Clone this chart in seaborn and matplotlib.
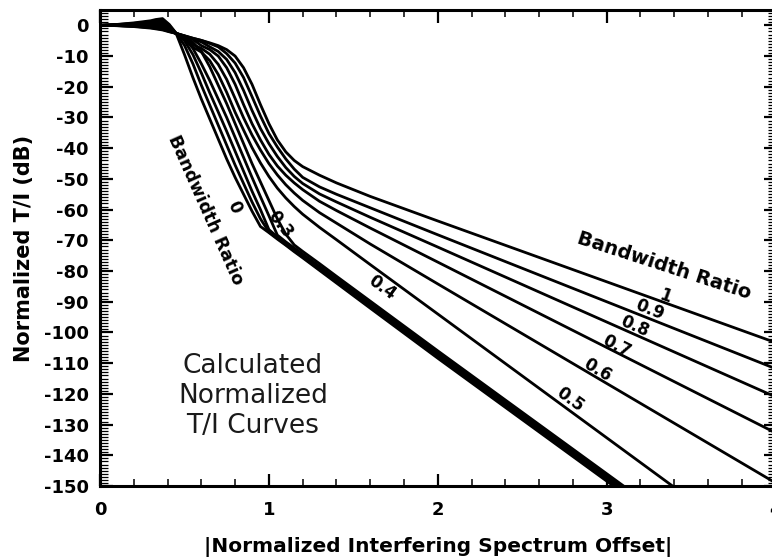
import numpy as np
import pandas as pd
import matplotlib
matplotlib.use("Agg")
import matplotlib.pyplot as plt
from matplotlib.ticker import MultipleLocator
import seaborn as sns

# ---- data ----
X = [0, 0.1, 0.2, 0.3, 0.33, 0.37, 0.41, 0.45, 0.5, 0.55, 0.6, 0.65, 0.7, 0.75, 0.8, 0.85,
     0.9, 0.95, 1.0, 1.05, 1.1, 1.15, 1.2, 1.3, 1.4, 1.6, 2.0, 3.0, 4.0]

R00 = [0, 0.3, 0.8, 1.5, 1.9, 2.2, 0.3, -2.5, -9.5, -17, -24, -30.5, -37, -43.5, -49.5, -55,
       -60.5, -65.5, -67.5, -69.6, -71.6, -73.7, -75.7, -79.8, -83.9, -92.1, -108.4, -148.4, -188.4]
R01 = [0, 0.25, 0.65, 1.2, 1.4, 1.6, 0.0, -2.6, -6.5, -12.5, -19.5, -26, -32.5, -39, -45.5, -51.5,
       -57.5, -63, -67.3, -69.3, -71.4, -73.4, -75.4, -79.5, -83.5, -91.6, -107.8, -147.8, -187.8]
R02 = [0, 0.2, 0.5, 0.9, 1.0, 1.1, -0.4, -2.6, -5, -9.5, -15.5, -22, -28.2, -34.5, -41, -47.5,
       -54, -60, -66.5, -68.9, -70.9, -73.0, -75.0, -79.0, -83.0, -91.1, -107.2, -147.2, -187.2]
R03 = [0, 0.15, 0.35, 0.6, 0.6, 0.6, -0.8, -2.6, -4.2, -7.5, -12.5, -18, -24, -30, -36.5, -43,
       -49.5, -55.8, -62, -68.3, -70.5, -72.5, -74.5, -78.5, -82.5, -90.6, -106.6, -146.6, -186.6]
R04 = [0, 0.1, 0.2, 0.3, 0.3, 0.2, -1.1, -2.6, -3.8, -5.5, -8.5, -13.5, -19.5, -25.5, -32, -38.5,
       -45, -51, -57, -63, -68.0, -71.5, -73.6, -77.6, -81.7, -89.8, -106.0, -146.0, -186.0]
R05 = [0, 0.05, 0.05, 0.0, 0.0, -0.2, -1.4, -2.6, -4.3, -7.1, -8.7, -11.5, -16.0, -21.8, -28.3, -34.1,
       -39.8, -44.8, -49.2, -53.0, -56.2, -59.0, -61.5, -65.8, -69.8, -77.9, -94.0, -134.3, -174.6]
R06 = [0, 0, -0.1, -0.3, -0.4, -0.6, -1.6, -2.6, -3.8, -6.3, -7.5, -9.4, -12.7, -17.6, -23.8, -30.1,
       -35.7, -40.6, -45.0, -48.7, -51.9, -54.6, -57.0, -61.0, -64.4, -71.2, -84.2, -116.6, -149.0]
R07 = [0, -0.05, -0.2, -0.5, -0.7, -0.9, -1.8, -2.6, -3.6, -4.6, -6.6, -7.9, -10.0, -13.8, -19.2, -25.8,
       -32.0, -37.3, -42.0, -45.8, -48.8, -51.3, -53.5, -57.3, -60.3, -66.0, -77.1, -104.9, -132.7]
R08 = [0, -0.05, -0.25, -0.6, -0.8, -1.1, -1.9, -2.6, -3.5, -4.4, -5.4, -7.0, -8.5, -11.1, -15.4, -21.2,
       -27.7, -33.6, -38.5, -42.7, -46.3, -49.2, -51.5, -54.9, -57.5, -62.5, -72.2, -96.6, -121.0]
R09 = [0, -0.1, -0.3, -0.75, -1.0, -1.3, -2.0, -2.6, -3.4, -4.2, -4.9, -5.9, -7.0, -9.2, -12.3, -17.0,
       -23.2, -29.5, -35.2, -39.6, -43.5, -46.8, -49.5, -52.6, -55.0, -59.4, -68.2, -90.0, -111.8]
R10 = [0, -0.1, -0.4, -0.9, -1.15, -1.5, -2.1, -2.6, -3.4, -4.2, -4.9, -5.7, -6.6, -7.9, -10.0, -13.8,
       -19.2, -25.8, -32.0, -37.3, -41.2, -44.0, -46.0, -48.8, -51.3, -55.7, -63.7, -83.5, -103.3]

RATIOS = ["0", "0.1", "0.2", "0.3", "0.4", "0.5", "0.6", "0.7", "0.8", "0.9", "1"]
SERIES = [R00, R01, R02, R03, R04, R05, R06, R07, R08, R09, R10]

X_TICKS = [0, 1, 2, 3, 4]
Y_TICKS = list(range(-150, 1, 10))

LINE_LABELS = ["1", "0.9", "0.8", "0.7", "0.6", "0.5", "0.4", "0.3", "0"]
LABEL_X = [3.345, 3.256, 3.168, 3.061, 2.943, 2.783, 1.670, 1.066, 0.793]
LABEL_Y = [-88.1, -92.7, -97.9, -104.4, -112.2, -122.0, -85.5, -65.0, -59.1]
LABEL_ROT = [-19.8, -21.6, -23.9, -26.8, -30.5, -36.0, -36.0, -52.0, -65.0]

# ---- build long table ----
rows = []
for name, ys in zip(RATIOS, SERIES):
    for xv, yv in zip(X, ys):
        rows.append({"x": xv, "y": yv, "ratio": name})
df = pd.DataFrame(rows)

sns.set_style("ticks")
plt.rcParams["font.family"] = ["DejaVu Sans"]
for k in ["text.color", "axes.labelcolor", "xtick.color", "ytick.color", "axes.edgecolor"]:
    plt.rcParams[k] = "black"

fig = plt.figure(figsize=(7.72, 5.6), dpi=100)
W, H = 772.0, 560.0
ax = fig.add_axes([100 / W, 74 / H, 675.6 / W, 476 / H])

sns.lineplot(data=df, x="x", y="y", hue="ratio", hue_order=RATIOS,
             palette={r: "black" for r in RATIOS}, estimator=None,
             legend=False, linewidth=2.0, ax=ax)

ax.set_xlim(0, 4)
ax.set_ylim(-150, 5)
ax.set_xticks(X_TICKS)
ax.set_xticklabels([str(t) for t in X_TICKS])
ax.set_yticks(Y_TICKS)
ax.set_yticklabels([str(t) for t in Y_TICKS])
ax.xaxis.set_minor_locator(MultipleLocator(0.2))
ax.yaxis.set_minor_locator(MultipleLocator(1))

ax.tick_params(axis="both", which="both", direction="in", top=True, right=True,
               colors="black")
ax.tick_params(axis="x", which="major", length=9, width=1.6, pad=11)
ax.tick_params(axis="x", which="minor", length=5, width=1.1)
ax.tick_params(axis="y", which="major", length=9, width=1.6, pad=8)
ax.tick_params(axis="y", which="minor", length=5.5, width=0.9)
for lab in ax.get_xticklabels() + ax.get_yticklabels():
    lab.set_fontweight("bold")
    lab.set_fontsize(13)
    lab.set_color("black")

for s in ax.spines.values():
    s.set_linewidth(2.2)
    s.set_color("black")

ax.set_xlabel("|Normalized Interfering Spectrum Offset|", fontsize=14.5,
              fontweight="bold", labelpad=13, color="black")
ax.set_ylabel("Normalized T/I (dB)", fontsize=15, fontweight="bold", labelpad=7,
              color="black")

for t, xv, yv, rot in zip(LINE_LABELS, LABEL_X, LABEL_Y, LABEL_ROT):
    ax.text(xv, yv, t, rotation=rot, rotation_mode="anchor", ha="center", va="center",
            fontsize=12, fontweight="bold", color="black")

ax.text(3.34, -78.4, "Bandwidth Ratio", rotation=-18, rotation_mode="anchor",
        ha="center", va="center", fontsize=14, fontweight="bold", color="black")
ax.text(0.622, -60.1, "Bandwidth Ratio", rotation=-66, rotation_mode="anchor",
        ha="center", va="center", fontsize=12.5, fontweight="bold", color="black")

ax.text(0.906, -120.7, "Calculated\nNormalized\nT/I Curves", ha="center", va="center",
        fontsize=19, color="#1a1a1a", linespacing=1.2)

fig.savefig("out.png", dpi=100)
